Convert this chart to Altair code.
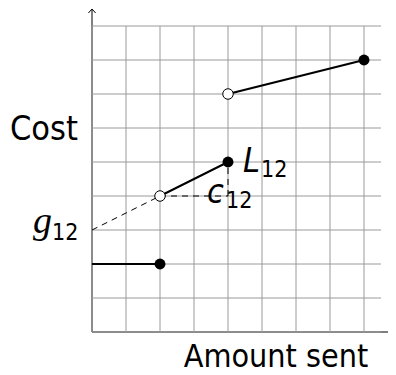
import altair as alt
import pandas as pd

# grid
grid_x = [0, 1, 2, 3, 4, 5, 6, 7, 8]
grid_y = [0, 1, 2, 3, 4, 5, 6, 7, 8, 9]
grid_x_max = 8.5
grid_y_max = 9

# axes extents
x_axis_end = 8.94
y_axis_end = 9.5

# solid pieces of the cost function
solid_x = [0, 2, 4]
solid_y = [2, 4, 7]
solid_x2 = [2, 4, 8]
solid_y2 = [2, 5, 8]

# dashed construction lines
dash_x = [0, 2, 4]
dash_y = [3, 4, 4]
dash_x2 = [2, 4, 4]
dash_y2 = [4, 4, 5]

# endpoints
filled_x = [2, 4, 8]
filled_y = [2, 5, 8]
open_x = [2, 4]
open_y = [4, 7]

W, H = 380, 367
X_DOM = [-84 / 34, (W - 84) / 34]
Y_DOM = [(324 - H) / 34, 324 / 34]

xs = alt.Scale(domain=X_DOM, nice=False, zero=False)
ys = alt.Scale(domain=Y_DOM, nice=False, zero=False)

SANS = "DejaVu Sans Condensed, Liberation Sans Narrow, Liberation Sans"


def X(f="x"):
    return alt.X(f, type="quantitative", scale=xs, axis=None)


def Y(f="y"):
    return alt.Y(f, type="quantitative", scale=ys, axis=None)


# axes lines
axes_df = pd.DataFrame({"x": [0, 0], "y": [0, 0], "x2": [x_axis_end, 0], "y2": [0, y_axis_end]})
axes = alt.Chart(axes_df).mark_rule(color="black", strokeWidth=1).encode(
    x=X(), y=Y(), x2="x2", y2="y2")

arrow_df = pd.DataFrame({"x": [x_axis_end, 0], "y": [0, y_axis_end], "a": [0, 270]})
arrows = alt.Chart(arrow_df).mark_point(
    shape="M-1,-0.9L0,0L-1,0.9", filled=False, color="black", strokeWidth=1, size=64, opacity=1
).encode(x=X(), y=Y(), angle=alt.Angle("a:Q", scale=None))

# grid
vgrid_df = pd.DataFrame({"x": grid_x, "y": [0] * len(grid_x), "y2": [grid_y_max] * len(grid_x)})
hgrid_df = pd.DataFrame({"y": grid_y, "x": [0] * len(grid_y), "x2": [grid_x_max] * len(grid_y)})
vgrid = alt.Chart(vgrid_df).mark_rule(color="#9a9a9a", strokeWidth=1).encode(x=X(), y=Y(), y2="y2")
hgrid = alt.Chart(hgrid_df).mark_rule(color="#9a9a9a", strokeWidth=1).encode(x=X(), x2="x2", y=Y())

dash_df = pd.DataFrame({"x": dash_x, "y": dash_y, "x2": dash_x2, "y2": dash_y2})
dashed = alt.Chart(dash_df).mark_rule(color="black", strokeWidth=1, strokeDash=[6, 5]).encode(
    x=X(), y=Y(), x2="x2", y2="y2")

solid_df = pd.DataFrame({"x": solid_x, "y": solid_y, "x2": solid_x2, "y2": solid_y2})
solid = alt.Chart(solid_df).mark_rule(color="black", strokeWidth=2).encode(
    x=X(), y=Y(), x2="x2", y2="y2")

filled_df = pd.DataFrame({"x": filled_x, "y": filled_y})
filled = alt.Chart(filled_df).mark_point(
    shape="circle", filled=True, color="black", size=120, opacity=1
).encode(x=X(), y=Y())

open_df = pd.DataFrame({"x": open_x, "y": open_y})
opened = alt.Chart(open_df).mark_point(
    shape="circle", filled=True, fill="white", stroke="black", strokeWidth=1, size=110, opacity=1
).encode(x=X(), y=Y())


def label(text, x, y, size, font=SANS, style="normal", align="left"):
    df = pd.DataFrame({"x": [x], "y": [y], "t": [text]})
    return alt.Chart(df).mark_text(
        font=font, fontSize=size, fontStyle=style, align=align, baseline="alphabetic", color="black"
    ).encode(x=X(), y=Y(), text="t:N")


texts = [
    label("Cost", (44 - 92) / 34, (332 - 140) / 34, 34, align="center"),
    label("Amount sent", (276 - 92) / 34, (332 - 367) / 34, 32, align="center"),
    label("g", (33 - 92) / 34, (332 - 233) / 34, 38, font="Liberation Serif", style="italic"),
    label("12", (52 - 92) / 34, (332 - 240) / 34, 23),
    label("L", (243 - 92) / 34, (332 - 172) / 34, 34, style="italic"),
    label("12", (261 - 92) / 34, (332 - 177) / 34, 23),
    label("c", (207 - 92) / 34, (332 - 203) / 34, 34, style="italic"),
    label("12", (226 - 92) / 34, (332 - 208) / 34, 23),
]

chart = alt.layer(axes, arrows, vgrid, hgrid, dashed, solid, filled, opened, *texts).properties(
    width=W, height=H, autosize="none", padding=0
).configure_view(stroke=None)

chart.save("out.html", embed_options={"renderer": "svg", "actions": False})
